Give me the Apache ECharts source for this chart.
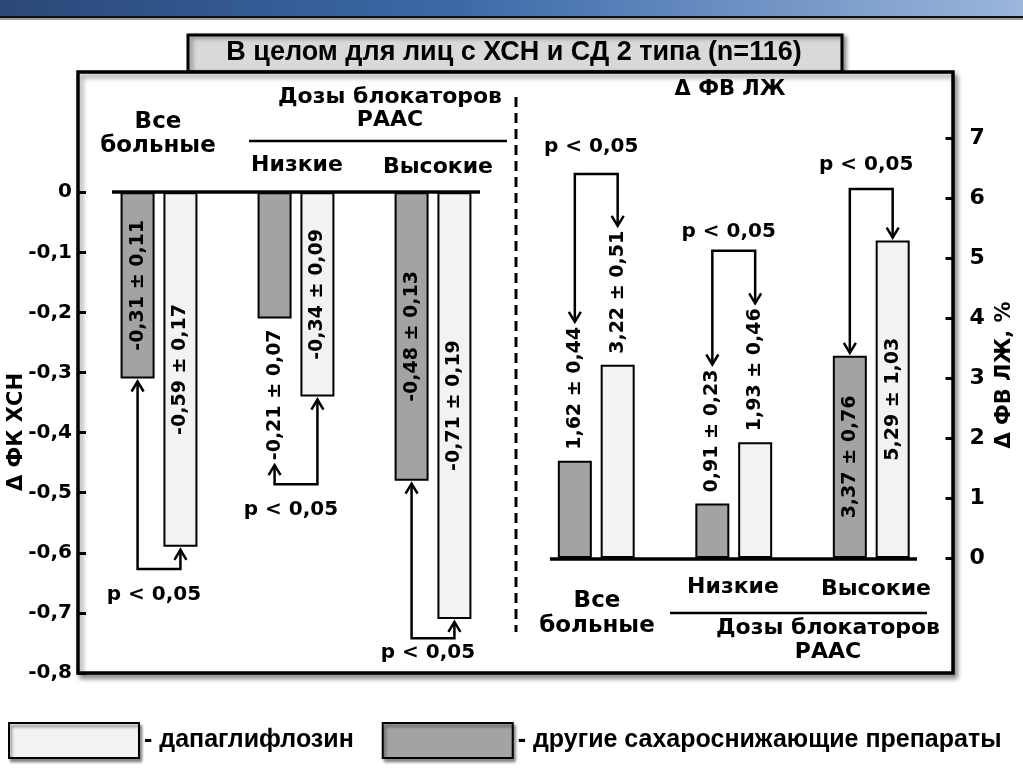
<!DOCTYPE html>
<html>
<head>
<meta charset="utf-8">
<script src="https://cdn.jsdelivr.net/npm/echarts@6/dist/echarts.min.js"></script>
<style>
  html, body { margin: 0; padding: 0; background: #fff; }
  #chart { width: 1023px; height: 776px; }
</style>
</head>
<body>
<div id="chart"></div>
<script>
// ---- data ----
const groups = ['Все больные', 'Низкие', 'Высокие'];
const seriesNames = ['дапаглифлозин', 'другие сахароснижающие препараты'];

// Δ ФК ХСН (left panel)
const fkOther = [-0.31, -0.21, -0.48];
const fkOtherSd = [0.11, 0.07, 0.13];
const fkDapa = [-0.59, -0.34, -0.71];
const fkDapaSd = [0.17, 0.09, 0.19];
const fkTicks = [0, -0.1, -0.2, -0.3, -0.4, -0.5, -0.6, -0.7, -0.8];

// Δ ФВ ЛЖ, % (right panel)
const fvOther = [1.62, 0.91, 3.37];
const fvOtherSd = [0.44, 0.23, 0.76];
const fvDapa = [3.22, 1.93, 5.29];
const fvDapaSd = [0.51, 0.46, 1.03];
const fvTicks = [0, 1, 2, 3, 4, 5, 6, 7];

// p < 0,05 brackets: level of the bracket and of its text (axis units)
const fkBracket = [-0.627, -0.486, -0.742];
const fkPText = [-0.67, -0.529, -0.767];
const fvBracket = [6.4, 5.12, 6.15];
const fvPText = [6.85, 5.43, 6.55];

const BAR_W = 34;
const GAP = 0.26;
const DARK = '#a3a3a3';
const LIGHT = '#f2f2f2';
const FONT = 'DejaVu Sans';
const NARROW = "'Liberation Sans Narrow', 'Arial Narrow', 'Liberation Sans'";
const LABEL_FONT = 'bold 19px ' + FONT;

function fmt(v) { return v.toFixed(2).replace('.', ','); }
function tickFmt(v) { return v === 0 ? '0' : v.toFixed(1).replace('.', ','); }

const measureCtx = document.createElement('canvas').getContext('2d');
function textLen(t) { measureCtx.font = LABEL_FONT; return measureCtx.measureText(t).width; }

function barSeries(name, values, sds, idx, color, insideMin) {
  return {
    name: name, type: 'bar', xAxisIndex: idx, yAxisIndex: idx,
    barWidth: BAR_W, barGap: (GAP * 100) + '%',
    itemStyle: { color: color, borderColor: '#000', borderWidth: 2 },
    label: {
      show: true, rotate: 90, color: '#000',
      fontFamily: FONT, fontWeight: 'bold', fontSize: 19,
      formatter: p => fmt(values[p.dataIndex]) + ' ± ' + fmt(sds[p.dataIndex])
    },
    data: values.map(v => {
      if (Math.abs(v) >= insideMin) {
        return { value: v, label: { position: 'inside', align: 'center', verticalAlign: 'middle' } };
      }
      return { value: v, label: { position: 'outside', distance: 11,
        align: v < 0 ? 'right' : 'left', verticalAlign: 'middle' } };
    })
  };
}

function arrow(x, y, s) {
  return { type: 'polyline', shape: { points: [[x - 6, y + s * 10], [x, y], [x + 6, y + s * 10]] },
    style: { stroke: '#000', lineWidth: 2.5, fill: null } };
}

function bracketSeries(idx, other, otherSd, dapa, dapaSd, levels, textLv, insideMin) {
  return {
    type: 'custom', xAxisIndex: idx, yAxisIndex: idx, silent: true, z: 5,
    data: levels.map((lv, i) => [i, lv, textLv[i]]),
    renderItem: (params, api) => {
      const i = api.value(0);
      const base = api.coord([i, 0]);
      const yLevel = api.coord([i, api.value(1)])[1];
      const yText = api.coord([i, api.value(2)])[1];
      const half = BAR_W * (1 + GAP) / 2;
      const xs = [base[0] - half, base[0] + half];
      const tips = [[other[i], otherSd[i]], [dapa[i], dapaSd[i]]].map(([v, sd]) => {
        const end = api.coord([i, v])[1];
        const dir = v < 0 ? 1 : -1;
        if (Math.abs(v) >= insideMin) return end + dir * 3;
        return end + dir * (11 + textLen(fmt(v) + ' ± ' + fmt(sd)) + 5);
      });
      const s = yLevel > tips[0] ? 1 : -1;
      return {
        type: 'group',
        children: [
          { type: 'polyline',
            shape: { points: [[xs[0], tips[0]], [xs[0], yLevel], [xs[1], yLevel], [xs[1], tips[1]]] },
            style: { stroke: '#000', lineWidth: 2.5, fill: null } },
          arrow(xs[0], tips[0], s),
          arrow(xs[1], tips[1], s),
          { type: 'text', style: { text: 'p < 0,05', x: base[0] - 5, y: yText, align: 'center',
            verticalAlign: 'middle', font: 'bold 20px ' + FONT, fill: '#000' } }
        ]
      };
    }
  };
}

const chart = echarts.init(document.getElementById('chart'));

const catAxis = idx => ({
  type: 'category', gridIndex: idx, data: groups,
  axisLine: { show: false }, axisTick: { show: false }, axisLabel: { show: false }
});

function txt(text, x, y, size, extra) {
  return Object.assign({ type: 'text', z: 20, style: Object.assign({
    text: text, x: x, y: y, align: 'center', verticalAlign: 'middle',
    font: 'bold ' + size + 'px ' + FONT, fill: '#000'
  }, extra || {}) });
}
function line(x1, y1, x2, y2, w, dash) {
  return { type: 'line', z: 20, shape: { x1: x1, y1: y1, x2: x2, y2: y2 },
    style: { stroke: '#000', lineWidth: w, lineDash: dash || null } };
}

const option = {
  animation: false,
  grid: [
    { left: 90.5, top: 72, width: 411, height: 601 },
    { left: 527.5, top: 78, width: 412.5, height: 600 }
  ],
  xAxis: [catAxis(0), catAxis(1)],
  yAxis: [
    {
      type: 'value', gridIndex: 0, min: -0.8, max: 0.2, interval: 0.1, offset: 12.5,
      splitLine: { show: false }, axisLine: { show: false },
      axisTick: { show: true, inside: true, length: 8, customValues: fkTicks,
        lineStyle: { color: '#000', width: 3 } },
      axisLabel: { customValues: fkTicks, formatter: tickFmt, margin: 6, color: '#000',
        fontFamily: FONT, fontWeight: 'bold', fontSize: 20 }
    },
    {
      type: 'value', gridIndex: 1, position: 'right', min: -2, max: 8, interval: 1, offset: 12.5,
      splitLine: { show: false }, axisLine: { show: false },
      axisTick: { show: true, inside: true, length: 7, customValues: fvTicks,
        lineStyle: { color: '#000', width: 3 } },
      axisLabel: { customValues: fvTicks, margin: 17, color: '#000',
        fontFamily: FONT, fontWeight: 'bold', fontSize: 22 }
    }
  ],
  legend: {
    left: 8, top: 722, padding: 0, itemWidth: 130, itemHeight: 35, itemGap: 28,
    icon: 'rect', data: seriesNames, selectedMode: false,
    formatter: n => '- ' + n,
    itemStyle: { shadowColor: 'rgba(0,0,0,0.45)', shadowBlur: 3, shadowOffsetX: 2, shadowOffsetY: 3 },
    textStyle: { fontFamily: NARROW, fontWeight: 'bold', fontSize: 25, color: '#000' }
  },
  series: [
    barSeries(seriesNames[1], fkOther, fkOtherSd, 0, DARK, 0.3),
    barSeries(seriesNames[0], fkDapa, fkDapaSd, 0, LIGHT, 0.3),
    barSeries(seriesNames[1], fvOther, fvOtherSd, 1, DARK, 3.3),
    barSeries(seriesNames[0], fvDapa, fvDapaSd, 1, LIGHT, 3.3),
    bracketSeries(0, fkOther, fkOtherSd, fkDapa, fkDapaSd, fkBracket, fkPText, 0.3),
    bracketSeries(1, fvOther, fvOtherSd, fvDapa, fvDapaSd, fvBracket, fvPText, 3.3)
  ],
  graphic: [
    // slide header band
    { type: 'rect', z: -5, shape: { x: 0, y: 0, width: 1023, height: 16 },
      style: { fill: new echarts.graphic.LinearGradient(0, 0, 1, 0, [
        { offset: 0, color: '#2a4878' }, { offset: 0.45, color: '#3c6aa9' }, { offset: 1, color: '#9cb6dc' }]) } },
    { type: 'rect', z: -5, shape: { x: 0, y: 16, width: 1023, height: 2 }, style: { fill: '#111' } },
    { type: 'rect', z: -5, shape: { x: 0, y: 18, width: 1023, height: 2 }, style: { fill: '#9a9a9a' } },
    // title tab
    { type: 'rect', z: -4, shape: { x: 188, y: 35, width: 654, height: 37 },
      style: { fill: '#d9d9d9', stroke: '#000', lineWidth: 3,
        shadowColor: 'rgba(0,0,0,0.4)', shadowBlur: 4, shadowOffsetX: 3, shadowOffsetY: 2 } },
    txt('В целом для лиц с ХСН и СД 2 типа (n=116)', 514, 53, 27, { font: 'bold 27px ' + NARROW }),
    // plot frame
    { type: 'rect', z: -3, shape: { x: 78, y: 72, width: 875, height: 601 },
      style: { fill: '#fff', stroke: '#000', lineWidth: 3.5,
        shadowColor: 'rgba(0,0,0,0.4)', shadowBlur: 5, shadowOffsetX: 3, shadowOffsetY: 4 } },
    line(516, 97, 516, 632, 3, [10, 6]),
    // baselines
    line(112, 192, 480, 192, 3.5),
    line(550, 559, 917, 559, 3.5),
    // left panel captions
    txt('Все\nбольные', 158, 134, 23, { lineHeight: 24 }),
    txt('Дозы блокаторов\nРААС', 390, 109, 22, { lineHeight: 23 }),
    line(249, 141, 507, 141, 2.5),
    txt('Низкие', 297, 165, 22),
    txt('Высокие', 438, 167, 22),
    txt('Δ ФК ХСН', 17, 432, 21, {}),
    // right panel captions
    txt('Δ ФВ ЛЖ', 730, 90, 21),
    txt('Все\nбольные', 597, 614, 23, { lineHeight: 25 }),
    txt('Низкие', 733, 587, 22),
    txt('Высокие', 876, 589, 22),
    line(670, 613, 927, 613, 2.5),
    txt('Дозы блокаторов\nРААС', 828, 640, 22, { lineHeight: 24 }),
    txt('Δ ФВ ЛЖ, %', 1005, 375, 21)
  ]
};

// rotate the axis titles
option.graphic.forEach(g => {
  if (g.type === 'text' && (g.style.text === 'Δ ФК ХСН' || g.style.text === 'Δ ФВ ЛЖ, %')) {
    g.rotation = Math.PI / 2;
    g.x = g.style.x; g.y = g.style.y;
    g.style.x = 0; g.style.y = 0;
  }
});

chart.setOption(option);
</script>
</body>
</html>
